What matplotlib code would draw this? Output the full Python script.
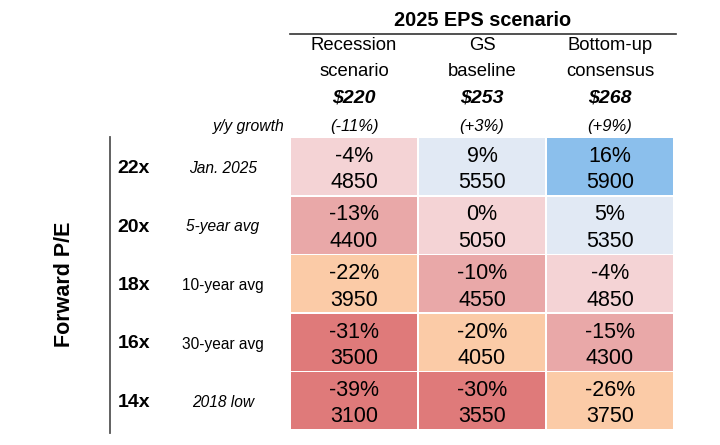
import matplotlib
matplotlib.use("Agg")
import matplotlib.pyplot as plt
from matplotlib.patches import Rectangle

plt.rcParams['font.family'] = ['Liberation Sans', 'DejaVu Sans']

# ---- data ----
scenarios = [["Recession", "scenario"], ["GS", "baseline"], ["Bottom-up", "consensus"]]
eps = ["$220", "$253", "$268"]
eps_growth = ["(-11%)", "(+3%)", "(+9%)"]
pe_multiples = ["22x", "20x", "18x", "16x", "14x"]
pe_labels = ["Jan. 2025", "5-year avg", "10-year avg", "30-year avg", "2018 low"]
pe_label_italic = [True, True, False, False, True]
pct_change = [
    [-4, 9, 16],
    [-13, 0, 5],
    [-22, -10, -4],
    [-31, -20, -15],
    [-39, -30, -26],
]
index_level = [
    [4850, 5550, 5900],
    [4400, 5050, 5350],
    [3950, 4550, 4850],
    [3500, 4050, 4300],
    [3100, 3550, 3750],
]


def cell_color(p):
    if p >= 12:
        return "#8BBFEC"
    if p > 0:
        return "#E1E9F4"
    if p > -8:
        return "#F4D3D5"
    if p > -17:
        return "#E9A8A8"
    if p > -28:
        return "#FBCBA7"
    return "#DF7A7A"


fig = plt.figure(figsize=(7.2, 4.45), dpi=100)
ax = fig.add_axes([0, 0, 1, 1])
ax.set_xlim(0, 720)
ax.set_ylim(445, 0)
ax.axis("off")

x0, cw, gap_x = 291, 128, 2
y0, rh, gap_y = 138, 58.5, 1.5

col_centers = [x0 + j * cw + (cw - gap_x) / 2 for j in range(len(eps))]

# header
ax.text((x0 + x0 + 3 * cw) / 2, 20, "2025 EPS scenario", ha="center", va="center",
        fontsize=14.3, fontweight="bold")
ax.plot([x0 - 1, x0 + 3 * cw + 1], [33.5, 33.5], color="#333333", lw=1.2)

for j, cx in enumerate(col_centers):
    ax.text(cx, 46, scenarios[j][0], ha="center", va="center", fontsize=13.3)
    ax.text(cx, 72, scenarios[j][1], ha="center", va="center", fontsize=13.3)
    ax.text(cx, 98, eps[j], ha="center", va="center", fontsize=14,
            fontweight="bold", fontstyle="italic")
    ax.text(cx, 127, eps_growth[j], ha="center", va="center", fontsize=12,
            fontstyle="italic")
ax.text(285, 126, "y/y growth", ha="right", va="center", fontsize=11.3, fontstyle="italic")

# cells
for i in range(len(pe_multiples)):
    ry = y0 + i * rh
    rc = ry + (rh - gap_y) / 2
    for j in range(len(eps)):
        rx = x0 + j * cw
        ax.add_patch(Rectangle((rx, ry), cw - gap_x, rh - gap_y,
                               facecolor=cell_color(pct_change[i][j]), edgecolor="none"))
        ax.text(col_centers[j], rc - 10, f"{pct_change[i][j]}%", ha="center", va="center",
                fontsize=15.5)
        ax.text(col_centers[j], rc + 16.5, f"{index_level[i][j]}", ha="center", va="center",
                fontsize=15.5)
    ax.text(134, rc + 2, pe_multiples[i], ha="center", va="center", fontsize=14,
            fontweight="bold")
    ax.text(223, rc + 2, pe_labels[i], ha="center", va="center", fontsize=11.2,
            fontstyle="italic" if pe_label_italic[i] else "normal")

# left axis line and label
ax.plot([110, 110], [y0 - 1, y0 + 5 * rh + 2], color="#555555", lw=1.3)
ax.text(65, 284, "Forward P/E", ha="center", va="center", rotation=90, fontsize=15.5,
        fontweight="bold")

fig.savefig("out.png", dpi=100)
